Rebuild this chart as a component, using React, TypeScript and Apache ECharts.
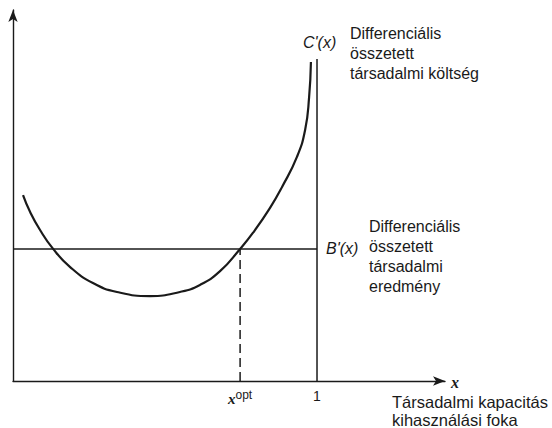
import React, { useEffect, useRef } from "react";
import * as echarts from "echarts";

const curveX = [0.033, 0.056, 0.089, 0.132, 0.188, 0.263, 0.342, 0.451, 0.549, 0.615, 0.681, 0.747, 0.789, 0.845, 0.885, 0.934, 0.961, 0.974, 0.98];
const curveY = [5.01, 4.56, 4.07, 3.56, 3.07, 2.64, 2.4, 2.29, 2.4, 2.59, 2.96, 3.56, 3.99, 4.66, 5.23, 6.04, 6.77, 7.65, 8.6];
const benefitLevel = 3.56;
const xOpt = 0.747;
const capacityTop = 8.68;
const tickValues = [xOpt, 1];
const costLabel = ["Differenciális", "összetett", "társadalmi költség"];
const benefitLabel = ["Differenciális", "összetett", "társadalmi", "eredmény"];
const axisTitle = ["Társadalmi kapacitás", "kihasználási foka"];

const FONT = "'Liberation Sans', Arial, Helvetica, sans-serif";

export default function App() {
  const ref = useRef<HTMLDivElement>(null);
  useEffect(() => {
    if (!ref.current) return;
    const chart = echarts.init(ref.current, undefined, { renderer: "svg" });
    const black = "#1a1a1a";
    chart.setOption({
      animation: false,
      backgroundColor: "#ffffff",
      grid: { left: 13, right: 107, top: 10, bottom: 47 },
      xAxis: {
        type: "value",
        min: 0,
        max: 1.421,
        splitLine: { show: false },
        axisTick: { show: false },
        axisLine: { show: true, lineStyle: { color: black, width: 1.4 }, symbol: ["none", "arrow"], symbolSize: [7, 12] },
        axisLabel: {
          show: true,
          customValues: tickValues,
          margin: 8,
          color: black,
          fontFamily: FONT,
          fontSize: 14,
          formatter: (v: number) => (v === 1 ? "1" : "{i|x}{s|opt}"),
          rich: {
            i: { fontFamily: "'Liberation Serif', serif", fontStyle: "italic", fontWeight: "bold", fontSize: 15, color: black },
            s: { fontFamily: FONT, fontSize: 12, color: black, padding: [0, 0, 8, 0] },
          },
        },
      },
      yAxis: {
        type: "value",
        min: 0,
        max: 10,
        splitLine: { show: false },
        axisTick: { show: false },
        axisLabel: { show: false },
        axisLine: { show: true, lineStyle: { color: black, width: 1.4 }, symbol: ["none", "arrow"], symbolSize: [7, 12] },
      },
      series: [
        {
          type: "line",
          smooth: 0.5,
          showSymbol: false,
          data: curveX.map((x, i) => [x, curveY[i]]),
          lineStyle: { color: black, width: 2.2 },
        },
        {
          type: "line",
          showSymbol: false,
          data: [[0, benefitLevel], [1, benefitLevel]],
          lineStyle: { color: black, width: 1.5 },
        },
        {
          type: "line",
          showSymbol: false,
          data: [[1, 0], [1, capacityTop]],
          lineStyle: { color: black, width: 1.5 },
        },
        {
          type: "line",
          showSymbol: false,
          data: [[xOpt, 0], [xOpt, benefitLevel]],
          lineStyle: { color: black, width: 1.5, type: [9, 5] },
        },
      ],
      graphic: [
        { type: "text", x: 303, y: 34, style: { text: "C'(x)", font: `italic 16px ${FONT}`, fill: black } },
        { type: "text", x: 350, y: 23, style: { text: costLabel.join("\n"), font: `16px ${FONT}`, lineHeight: 20, fill: black } },
        { type: "text", x: 326, y: 240, style: { text: "B'(x)", font: `italic 16px ${FONT}`, fill: black } },
        { type: "text", x: 369, y: 216, style: { text: benefitLabel.join("\n"), font: `16px ${FONT}`, lineHeight: 20, fill: black } },
        { type: "text", x: 451, y: 374, style: { text: "x", font: `italic bold 16px 'Liberation Serif', serif`, fill: black } },
        { type: "text", x: 392, y: 394, style: { text: axisTitle[0], font: `16.5px ${FONT}`, lineHeight: 16, fill: black } },
        { type: "text", x: 392, y: 412, style: { text: axisTitle[1], font: `16.5px ${FONT}`, lineHeight: 16, fill: black } },
      ],
    });
    return () => chart.dispose();
  }, []);
  return <div ref={ref} style={{ width: 552, height: 428, position: "absolute", left: 0, top: 0 }} />;
}
